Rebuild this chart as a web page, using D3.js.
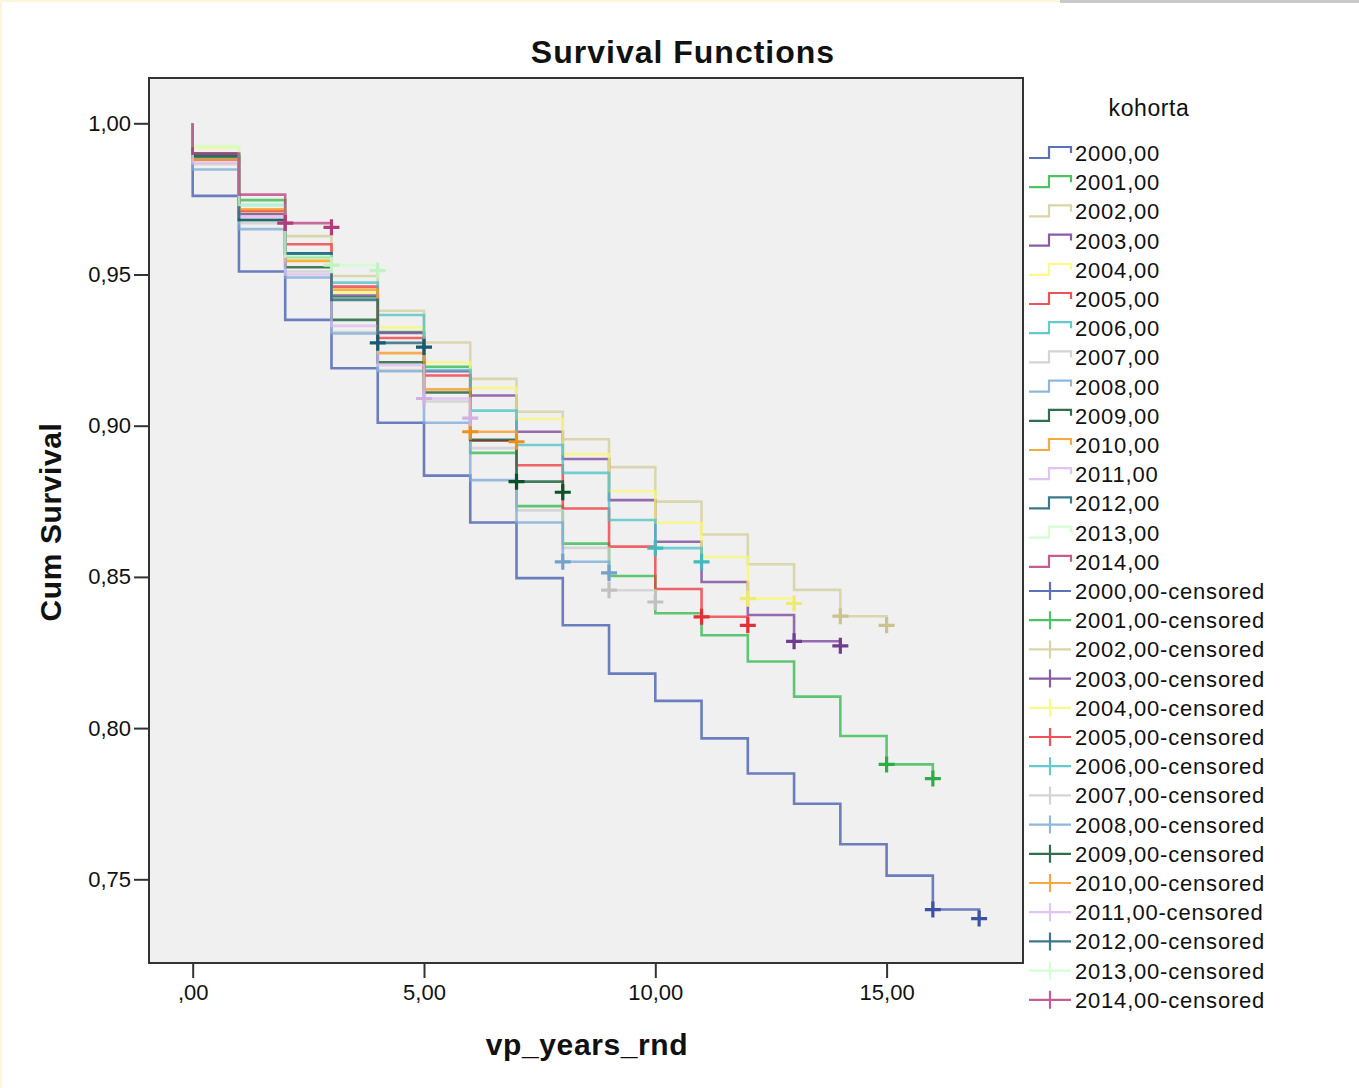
<!DOCTYPE html>
<html>
<head>
<meta charset="utf-8">
<script src="https://cdn.jsdelivr.net/npm/d3@7"></script>
<style>
  html, body { margin: 0; padding: 0; background: #ffffff; }
  svg { display: block; }
  text { font-family: "Liberation Sans", Arial, sans-serif; fill: #111; }
</style>
</head>
<body>
<script>
// ---------------- DATA ----------------
const cohorts = ["2000,00","2001,00","2002,00","2003,00","2004,00","2005,00","2006,00","2007,00",
                 "2008,00","2009,00","2010,00","2011,00","2012,00","2013,00","2014,00"];
const colors = ["#3e58ac","#2eb848","#d3ce97","#753f98","#fbf873","#ef3338","#48c2c5","#cccccc",
                "#7aaad5","#0a562c","#f8981d","#ddbaf1","#1a5f76","#ccffcc","#bb3f7f"];
const xTicks = [0, 5, 10, 15];
const xTickLabels = [",00", "5,00", "10,00", "15,00"];
const yTicks = [0.75, 0.80, 0.85, 0.90, 0.95, 1.00];
const yTickLabels = ["0,75", "0,80", "0,85", "0,90", "0,95", "1,00"];

// cumulative survival after the events at year 0, 1, 2, ...
const s2000 = [0.976,0.951,0.935,0.919,0.901,0.8835,0.868,0.8496,0.834,0.818,0.809,0.7966,0.785,0.775,0.7616,0.7512,0.740,0.737];
const s2001 = [0.990,0.9746,0.9558,0.9425,0.931,0.9195,0.891,0.8734,0.861,0.8503,0.838,0.8307,0.822,0.8104,0.7974,0.788,0.7833];
const s2002 = [0.989,0.970,0.9627,0.9495,0.938,0.9275,0.9155,0.9046,0.8955,0.8863,0.8749,0.864,0.8542,0.8457,0.837,0.834];
const s2003 = [0.9895,0.970,0.957,0.943,0.9307,0.918,0.910,0.898,0.889,0.8754,0.8616,0.8483,0.8374,0.8287,0.8272];
const s2004 = [0.992,0.971,0.9545,0.944,0.9325,0.921,0.9125,0.9022,0.8906,0.8783,0.8679,0.8566,0.8428,0.8412];
const s2005 = [0.988,0.971,0.960,0.946,0.929,0.9166,0.895,0.8869,0.8726,0.860,0.846,0.8368,0.834];
const s2006 = [0.9885,0.973,0.957,0.9473,0.9366,0.9184,0.905,0.8936,0.8844,0.8688,0.8595,0.855];
const s2007 = [0.9865,0.967,0.951,0.931,0.9184,0.908,0.8926,0.872,0.8596,0.8456,0.8417];
const s2008 = [0.9847,0.965,0.949,0.9305,0.918,0.901,0.882,0.868,0.855,0.8513];
const s2009 = [0.989,0.968,0.9524,0.935,0.921,0.911,0.8953,0.8815,0.878];
const s2010 = [0.988,0.9716,0.9545,0.945,0.924,0.912,0.898,0.8947];
const s2011 = [0.987,0.969,0.950,0.933,0.920,0.909,0.9025];
const s2012 = [0.990,0.968,0.957,0.9416,0.9274,0.926];
const s2013 = [0.9925,0.973,0.956,0.9531,0.9513];
const s2014 = [0.990,0.9764,0.967,0.9656];
const survival = [s2000,s2001,s2002,s2003,s2004,s2005,s2006,s2007,s2008,s2009,s2010,s2011,s2012,s2013,s2014];

// years at which censored cases are marked
const censored = [[16,17],[15,16],[14,15],[13,14],[12,13],[11,12],[10,11],[9,10],[8,9],[7,8],[6,7],[5,6],[4,5],[3,4],[2,3]];

// ---------------- LAYOUT ----------------
const W = 1359, H = 1088;
const plot = { left: 149, right: 1023, top: 78, bottom: 963 };

const svg = d3.select("body").append("svg").attr("width", W).attr("height", H);

// faint frame of the original screenshot
svg.append("rect").attr("x", 0).attr("y", 0).attr("width", 1060).attr("height", 2).attr("fill", "#fbf6d6");
svg.append("rect").attr("x", 0).attr("y", 0).attr("width", 2).attr("height", H).attr("fill", "#fbf6d6");
svg.append("rect").attr("x", 1060).attr("y", 0).attr("width", 299).attr("height", 3).attr("fill", "#c8c8c8");

const x = d3.scaleLinear().domain([0, 15]).range([192.7, 886.6]);
const y = d3.scaleLinear().domain([0.75, 1.0]).range([879.3, 123.3]);

// plot background
svg.append("rect")
  .attr("x", plot.left).attr("y", plot.top)
  .attr("width", plot.right - plot.left).attr("height", plot.bottom - plot.top)
  .attr("fill", "#f0f0f0");

svg.append("clipPath").attr("id", "clip").append("rect")
  .attr("x", plot.left).attr("y", plot.top)
  .attr("width", plot.right - plot.left).attr("height", plot.bottom - plot.top);

const g = svg.append("g").attr("clip-path", "url(#clip)");
const line = d3.line().x(d => x(d[0])).y(d => y(d[1])).curve(d3.curveStepAfter);

// curves
survival.forEach((s, i) => {
  const pts = [[0, 1.0]].concat(s.map((v, t) => [t, v]));
  g.append("path")
    .attr("d", line(pts))
    .attr("fill", "none")
    .attr("stroke", colors[i])
    .attr("stroke-opacity", 0.75)
    .attr("stroke-width", 2.6);
});

// censored marks
survival.forEach((s, i) => {
  censored[i].forEach(t => {
    const cx = x(t), cy = y(s[t]);
    g.append("path")
      .attr("d", `M${cx - 8},${cy}H${cx + 8}M${cx},${cy - 8}V${cy + 8}`)
      .attr("stroke", d3.color(colors[i]).darker(0.15))
      .attr("stroke-width", 3.2)
      .attr("fill", "none");
  });
});

// frame
svg.append("rect")
  .attr("x", plot.left).attr("y", plot.top)
  .attr("width", plot.right - plot.left).attr("height", plot.bottom - plot.top)
  .attr("fill", "none").attr("stroke", "#333").attr("stroke-width", 2);

// axes
const xAxis = d3.axisBottom(x).tickValues(xTicks).tickFormat((d, i) => xTickLabels[i])
  .tickSize(15).tickSizeOuter(0);
const gx = svg.append("g").attr("transform", `translate(0,${plot.bottom})`).call(xAxis);
gx.select(".domain").remove();
gx.selectAll(".tick line").attr("stroke", "#333").attr("stroke-width", 2);
gx.selectAll(".tick text").attr("font-size", 22).attr("dy", "0.71em").attr("y", 21).attr("fill", "#222");

const yAxis = d3.axisLeft(y).tickValues(yTicks).tickFormat((d, i) => yTickLabels[i])
  .tickSize(15).tickSizeOuter(0);
const gy = svg.append("g").attr("transform", `translate(${plot.left},0)`).call(yAxis);
gy.select(".domain").remove();
gy.selectAll(".tick line").attr("stroke", "#333").attr("stroke-width", 2);
gy.selectAll(".tick text").attr("font-size", 22).attr("x", -18).attr("fill", "#222");

// titles
svg.append("text").attr("x", 683).attr("y", 63).attr("text-anchor", "middle")
  .attr("font-size", 32).attr("font-weight", "bold").attr("letter-spacing", 1)
  .text("Survival Functions");
svg.append("text").attr("x", 587).attr("y", 1055).attr("text-anchor", "middle")
  .attr("font-size", 30).attr("font-weight", "bold").attr("letter-spacing", 0.6)
  .text("vp_years_rnd");
svg.append("text").attr("transform", "translate(61,522) rotate(-90)").attr("text-anchor", "middle")
  .attr("font-size", 30).attr("font-weight", "bold").attr("letter-spacing", 0.6)
  .text("Cum Survival");

// legend
const lg = svg.append("g");
lg.append("text").attr("x", 1149).attr("y", 116).attr("text-anchor", "middle")
  .attr("font-size", 23).attr("letter-spacing", 0.6).attr("fill", "#222").text("kohorta");

const rowY = i => 153 + i * 29.2;
cohorts.forEach((c, i) => {
  const cy = rowY(i);
  lg.append("path")
    .attr("d", `M1029,${cy + 5}H1049V${cy - 6}H1071V${cy}`)
    .attr("fill", "none").attr("stroke", colors[i]).attr("stroke-opacity", 0.85).attr("stroke-width", 2.2);
  lg.append("text").attr("x", 1075).attr("y", cy + 8)
    .attr("font-size", 22).attr("letter-spacing", 0.8).attr("fill", "#222").text(c);
});
cohorts.forEach((c, i) => {
  const cy = rowY(i + 15);
  lg.append("path")
    .attr("d", `M1029,${cy}H1071M1050,${cy - 9}V${cy + 9}`)
    .attr("fill", "none").attr("stroke", colors[i]).attr("stroke-opacity", 0.85).attr("stroke-width", 2.2);
  lg.append("text").attr("x", 1075).attr("y", cy + 8)
    .attr("font-size", 22).attr("letter-spacing", 0.8).attr("fill", "#222").text(c + "-censored");
});
</script>
</body>
</html>
